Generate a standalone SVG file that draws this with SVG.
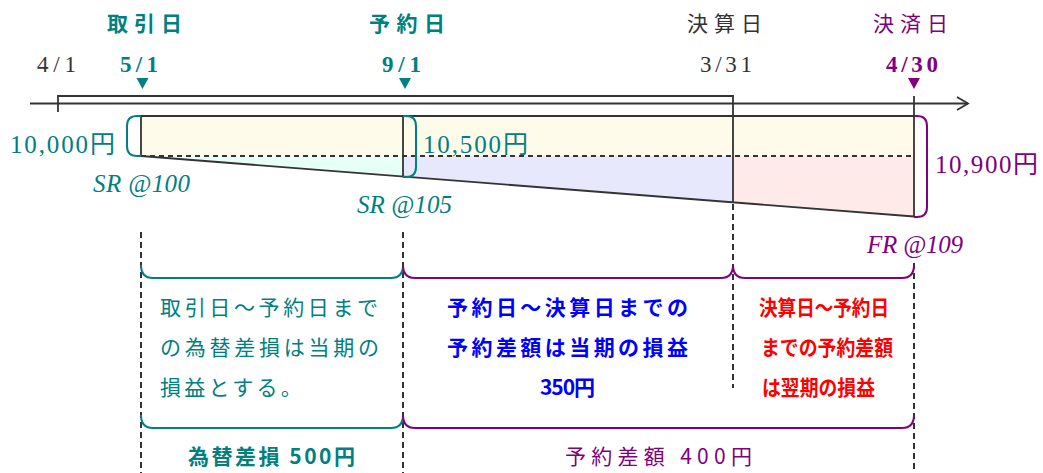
<svg xmlns="http://www.w3.org/2000/svg" width="1043" height="473" viewBox="0 0 1043 473">
<style>
.ln{stroke:#333;stroke-width:1.8;fill:none}
.dash{stroke:#333;stroke-width:2;stroke-dasharray:6 4;fill:none}
.teal{fill:#008080}
.purple{fill:#800080}
.gray{fill:#333}
.blue{fill:#0000FF}
.red{fill:#FF0000}
.jp{font-family:"Noto Sans CJK JP","Noto Sans",sans-serif;font-size:21px}
.num{font-family:"Liberation Serif","Noto Sans CJK JP",serif;font-size:23px}
.amt{font-family:"Liberation Serif","Noto Sans CJK JP",serif;font-size:25px}
.it{font-family:"Liberation Serif",serif;font-size:25px;font-style:italic}
.b{font-weight:bold}
.tb{stroke:#008080;stroke-width:2;fill:none}
.pb{stroke:#800080;stroke-width:2;fill:none}
</style>
<rect width="1043" height="473" fill="#fff"/>

<g id="bars">
<rect x="141" y="116" width="773" height="40" fill="#FFFBEB"/>
<polygon points="141,156 403,156 403,176.3" fill="#E6FFF7"/>
<polygon points="403,156 733,156 733,202 403,176.3" fill="#E8E8FD"/>
<polygon points="733,156 914,156 914,216.5 733,202" fill="#FFEAEA"/>
<line class="ln" x1="141" y1="116" x2="914" y2="116"/>
<line class="ln" x1="141" y1="156" x2="914" y2="216.5"/>
<line x1="141" y1="156" x2="914" y2="156" stroke="#333" stroke-width="1.8" stroke-dasharray="5 4"/>
<line class="ln" x1="141" y1="116" x2="141" y2="156"/>
<line class="ln" x1="403" y1="116" x2="403" y2="176.3"/>
</g>

<g id="connectors">
<line class="ln" x1="30" y1="103.5" x2="968" y2="103.5"/>
<polyline class="ln" points="957,97 968,103.5 957,110"/>
<polyline class="ln" points="58,112 58,96 733,96 733,202"/>
<line class="ln" x1="914" y1="96" x2="914" y2="216.5"/>
<line class="dash" x1="141" y1="232" x2="141" y2="473"/>
<line class="dash" x1="403" y1="232" x2="403" y2="473"/>
<line class="dash" x1="733" y1="204" x2="733" y2="388"/>
<line class="dash" x1="914" y1="263" x2="914" y2="473"/>
<path class="tb" d="M141,116 L137,116 Q127,116 127,126 L127,146 Q127,156 137,156 L141,156"/>
<path class="tb" d="M403,116 L406,116 Q416,116 416,126 L416,167 Q416,177 406,177 L403,177"/>
<path class="pb" d="M914,116 L917,116 Q927,116 927,126 L927,207 Q927,217 917,217 L914,217"/>
<path class="tb" d="M141,265 Q141,278 153,278 L391,278 Q403,278 403,265"/>
<path class="pb" d="M403,265 Q403,278 415,278 L721,278 Q733,278 733,265"/>
<path class="pb" d="M733,265 Q733,278 745,278 L902,278 Q914,278 914,265"/>
<path class="tb" d="M141,415 Q141,428 153,428 L391,428 Q403,428 403,415"/>
<path class="pb" d="M403,415 Q403,428 415,428 L902,428 Q914,428 914,415"/>
<polygon class="teal" points="136.5,78 148.5,78 142.5,89"/>
<polygon class="teal" points="399,78 411,78 405,89"/>
<polygon class="purple" points="908,78 920,78 914,89"/>
</g>

<g id="node-torihiki">
<text class="jp teal b" x="107" y="31" textLength="75" lengthAdjust="spacing">取引日</text>
<text class="num teal b" x="120" y="72" textLength="38" lengthAdjust="spacing">5/1</text>
</g>
<g id="node-yoyaku">
<text class="jp teal b" x="369" y="31" textLength="76" lengthAdjust="spacing">予約日</text>
<text class="num teal b" x="382" y="72" textLength="39" lengthAdjust="spacing">9/1</text>
</g>
<g id="node-kessan">
<text class="jp gray" x="687" y="31" textLength="75" lengthAdjust="spacing">決算日</text>
<text class="num gray" x="700" y="72" textLength="52" lengthAdjust="spacing">3/31</text>
</g>
<g id="node-kessai">
<text class="jp purple" x="873" y="31" textLength="75" lengthAdjust="spacing">決済日</text>
<text class="num purple b" x="886" y="72" textLength="52" lengthAdjust="spacing">4/30</text>
</g>
<g id="node-start">
<text class="num gray" x="37" y="72" textLength="39" lengthAdjust="spacing">4/1</text>
</g>

<g id="node-amounts">
<text class="amt teal" x="10" y="153" textLength="105" lengthAdjust="spacing">10,000円</text>
<text class="amt teal" x="423" y="153" textLength="105" lengthAdjust="spacing">10,500円</text>
<text class="amt purple" x="935" y="173" textLength="103" lengthAdjust="spacing">10,900円</text>
<text class="it teal" x="93" y="192" textLength="97" lengthAdjust="spacing">SR @100</text>
<text class="it teal" x="357" y="213" textLength="95" lengthAdjust="spacing">SR @105</text>
<text class="it purple" x="867" y="253" textLength="96" lengthAdjust="spacing">FR @109</text>
</g>

<g id="node-note-teal">
<text class="jp teal" x="160" y="315" textLength="218" lengthAdjust="spacing">取引日～予約日まで</text>
<text class="jp teal" x="160" y="355" textLength="219" lengthAdjust="spacing">の為替差損は当期の</text>
<text class="jp teal" x="160" y="395" letter-spacing="3.3">損益とする。</text>
</g>
<g id="node-note-blue">
<text class="jp blue b" x="447" y="315" textLength="241" lengthAdjust="spacing">予約日～決算日までの</text>
<text class="jp blue b" x="447" y="355" textLength="241" lengthAdjust="spacing">予約差額は当期の損益</text>
<text class="jp blue b" x="540" y="395" textLength="55" lengthAdjust="spacing">350円</text>
</g>
<g id="node-note-red">
<text class="jp red b" x="759" y="315" font-size="19" textLength="130" lengthAdjust="spacingAndGlyphs">決算日～予約日</text>
<text class="jp red b" x="761" y="355" font-size="19" textLength="132" lengthAdjust="spacingAndGlyphs">までの予約差額</text>
<text class="jp red b" x="762" y="395" font-size="19" textLength="113" lengthAdjust="spacingAndGlyphs">は翌期の損益</text>
</g>
<g id="node-totals">
<text class="jp teal b" x="188" y="464" textLength="167" lengthAdjust="spacing">為替差損 500円</text>
<text class="jp purple" x="565" y="464" textLength="187" lengthAdjust="spacing">予約差額 400円</text>
</g>
</svg>
